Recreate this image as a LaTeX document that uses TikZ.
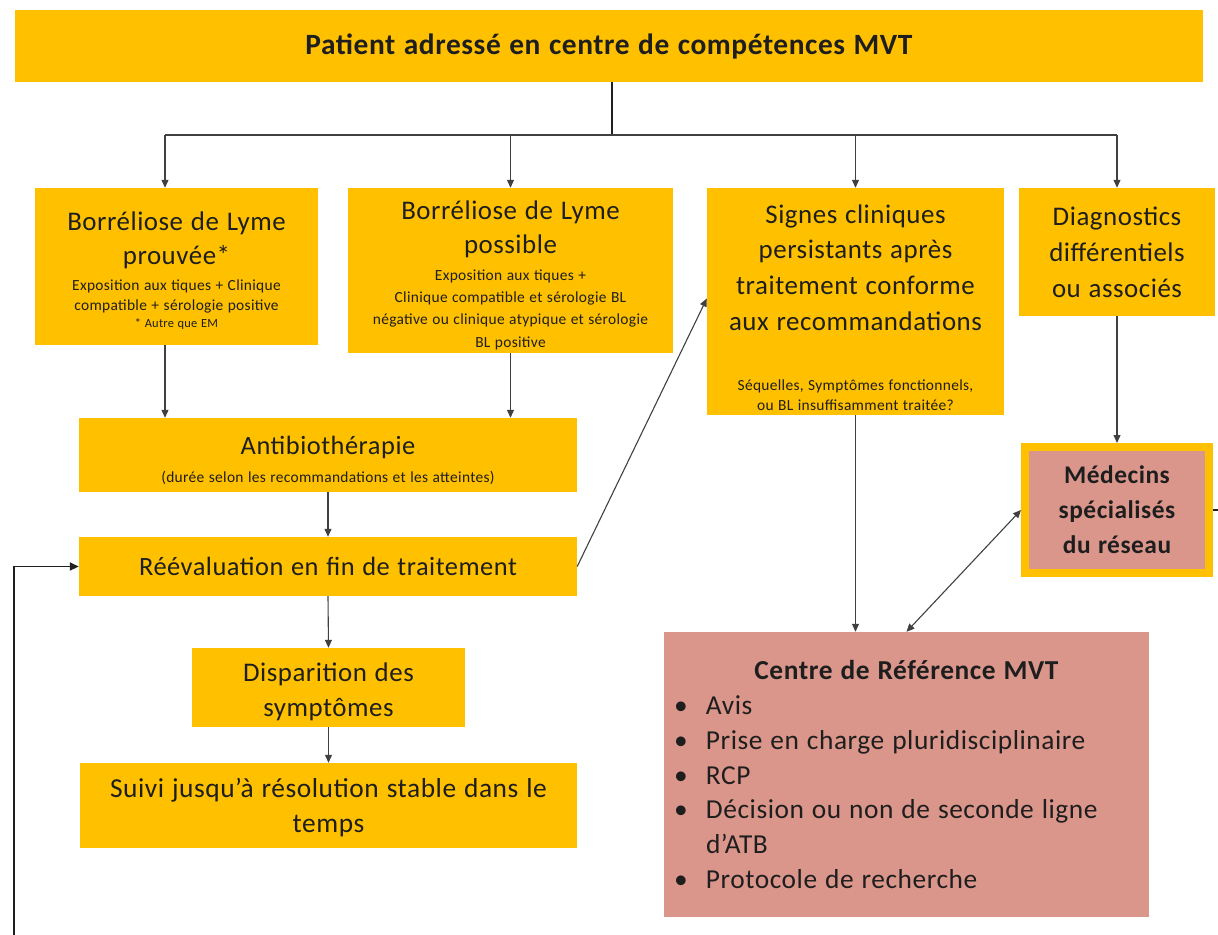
\documentclass[tikz,border=0pt]{standalone}
\usepackage{fontspec}
\setmainfont{Carlito}[LetterSpace=2,WordSpace=1.25]
\usetikzlibrary{arrows.meta}
\definecolor{gold}{HTML}{FFC000}
\definecolor{rose}{HTML}{DB968B}
\definecolor{ink}{HTML}{1E1E1E}
\definecolor{wire}{HTML}{404040}
\definecolor{darkwire}{HTML}{202020}
\newcommand\bulx{\hspace*{-6bp}\makebox[32bp][l]{\textbullet}}
\newcommand\fsz[2]{\fontsize{#1}{#2}\selectfont\spaceskip=0.29em\xspaceskip=0.29em\relax}
\begin{document}
\begin{tikzpicture}[x=1bp,y=-1bp,
  box/.style={fill=gold, draw=none, align=center, text=ink, inner sep=0pt},
  pinkbox/.style={fill=rose, draw=none, text=ink, inner sep=0pt},
  arr/.style={draw=wire, line width=1.1bp, -{Triangle[length=8bp,width=7bp]}},
  darr/.style={draw=wire, line width=1.1bp, {Triangle[length=8bp,width=7bp]}-{Triangle[length=8bp,width=7bp]}},
  wireline/.style={draw=wire, line width=1.1bp},
  loopline/.style={draw=darkwire, line width=1.8bp},
]
\useasboundingbox (0,0) rectangle (1218,935);

\node[box, minimum width=1188bp, minimum height=72bp, font=\bfseries\fsz{29.5}{34}] (top) at (609,46) {Patient adressé en centre de compétences MVT};

\node[box, minimum width=283bp, minimum height=157bp, text width=280bp] (b1) at (176.5,266.5)
 {{\fsz{27}{35}Borréliose de Lyme\\ prouvée*\par}
  \vspace{6bp}
  {\fsz{15.5}{20}Exposition aux tiques + Clinique\\ compatible + sérologie positive\par}
  {\fsz{12.5}{17}* Autre que EM\par}
  \vspace{-8bp}};

\node[box, minimum width=325bp, minimum height=165bp, text width=322bp] (b2) at (510.5,270.5)
 {{\fsz{27}{34}Borréliose de Lyme\\ possible\par}
  \vspace{4bp}
  {\fsz{15.5}{22.5}Exposition aux tiques +\\ Clinique compatible et sérologie BL\\ négative ou clinique atypique et sérologie\\ BL positive\par}
  \vspace{-10bp}};

\node[box, minimum width=297bp, minimum height=227bp, text width=295bp] (b3) at (855.5,301.5)
 {{\fsz{27}{36}Signes cliniques\\ persistants après\\ traitement conforme\\ aux recommandations\par}
  \vspace{40bp}
  {\fsz{15.5}{20}Séquelles, Symptômes fonctionnels,\\ ou BL insuffisamment traitée?\par}
  \vspace{-12bp}};

\node[box, minimum width=196bp, minimum height=128bp, text width=195bp] (b4) at (1117,252)
 {{\fsz{27}{36}Diagnostics\\ différentiels\\ ou associés\par}};

\node[box, minimum width=498bp, minimum height=74bp, text width=495bp] (anti) at (328,455)
 {{\fsz{26.5}{30}Antibiothérapie\par}
  {\fsz{15.5}{28}(durée selon les recommandations et les atteintes)\par}
  \vspace{-10bp}};

\node[box, minimum width=498bp, minimum height=59bp, font=\fsz{26.5}{35}] (reev) at (328,566.5)
 {Réévaluation en fin de traitement};

\node[box, minimum width=273bp, minimum height=79bp, text width=270bp] (disp) at (328.5,687.5)
 {{\fsz{27}{35}Disparition des\\ symptômes\par}
  \vspace{-8bp}};

\node[box, minimum width=497bp, minimum height=85bp, text width=495bp] (suivi) at (328.5,805.5)
 {{\fsz{27.5}{35}Suivi jusqu’à résolution stable dans le\\ temps\par}
  \vspace{-4bp}};

\node[pinkbox, draw=gold, line width=8bp, minimum width=184bp, minimum height=126bp, text width=182bp, align=center] (med) at (1117,510)
 {{\bfseries\fsz{25.5}{35}Médecins\\ spécialisés\\ du réseau\par}};

\node[pinkbox, minimum width=485bp, minimum height=285bp, text width=453bp, align=left] (crmvt) at (906.5,774.5)
 {{\fsz{27.5}{35}%
  {\centering\bfseries Centre de Référence MVT\par}
  \bulx Avis\\
  \bulx Prise en charge pluridisciplinaire\\
  \bulx RCP\\
  \bulx Décision ou non de seconde ligne\\
  \hspace*{26bp}d’ATB\\
  \bulx Protocole de recherche\par}};

% connectors from the top box
\coordinate (hub) at (612,135);
\draw[wireline, line width=1.5bp, draw=darkwire] (top.south -| hub) -- (hub);
\draw[wireline] ([xshift=-11.5bp]b1.north |- hub) -- (b4.north |- hub);
\draw[arr] ([xshift=-11.5bp]b1.north |- hub) -- ([xshift=-11.5bp]b1.north);
\draw[arr] (b2.north |- hub) -- (b2.north);
\draw[arr] (b3.north |- hub) -- (b3.north);
\draw[arr] (b4.north |- hub) -- (b4.north);

\draw[arr] ([xshift=-11.5bp]b1.south) -- ([xshift=-11.5bp]b1.south |- anti.north);
\draw[arr] (b2.south) -- (b2.south |- anti.north);
\draw[arr] (anti.south) -- (reev.north);
\draw[arr] (reev.south) -- (disp.north);
\draw[arr] (disp.south) -- (suivi.north);
\draw[arr] (reev.east) -- ([yshift=3bp]b3.west);
\draw[arr] (b3.south) -- (b3.south |- crmvt.north);
\draw[arr] (b4.south) -- (med.north);
\draw[darr] (crmvt.north) -- (med.west);

% loop
\coordinate (loopstart) at (14,935);
\draw[loopline, -{Triangle[length=9bp,width=8bp]}] (loopstart) |- (reev.west);
\coordinate (medout) at (1218,510);
\draw[loopline] (med.east) -- (medout);
\end{tikzpicture}
\end{document}
